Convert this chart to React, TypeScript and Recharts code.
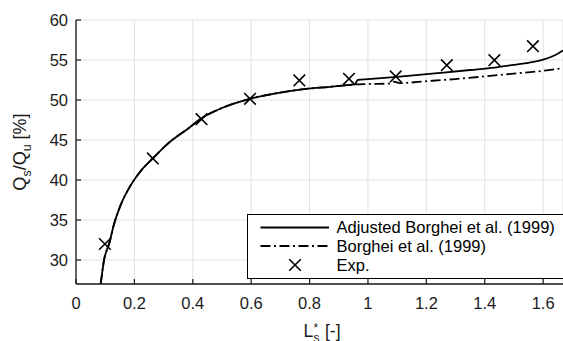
import React from 'react';
import { ComposedChart, Line, Scatter, XAxis, YAxis, CartesianGrid, Legend } from 'recharts';

// Exp. (measured points)
const expX = [0.099, 0.263, 0.43, 0.596, 0.765, 0.935, 1.095, 1.27, 1.433, 1.565];
const expY = [32.0, 42.7, 47.6, 50.15, 52.45, 52.65, 52.95, 54.35, 54.97, 56.72];

// Adjusted Borghei et al. (1999)
const adjX = [0.0845, 0.09, 0.096, 0.105, 0.114, 0.128, 0.151, 0.185, 0.219, 0.263, 0.31, 0.39, 0.425, 0.5, 0.596, 0.68, 0.767, 0.87, 0.927, 0.955, 0.965, 1.0, 1.1, 1.25, 1.35, 1.433, 1.5, 1.55, 1.6, 1.64, 1.668];
const adjY = [27.0, 28.5, 30.0, 31.2, 32.1, 34.2, 36.7, 39.2, 41.0, 42.7, 44.4, 46.6, 47.6, 49.0, 50.15, 50.8, 51.3, 51.65, 51.85, 51.95, 52.5, 52.6, 52.9, 53.4, 53.75, 54.05, 54.4, 54.65, 55.05, 55.6, 56.2];

// Borghei et al. (1999)
const borX = [0.0845, 0.09, 0.096, 0.105, 0.114, 0.128, 0.151, 0.185, 0.219, 0.263, 0.31, 0.39, 0.425, 0.5, 0.596, 0.68, 0.767, 0.87, 0.927, 0.955, 1.0, 1.076, 1.088, 1.11, 1.2, 1.3, 1.4, 1.5, 1.6, 1.668];
const borY = [27.0, 28.5, 30.0, 31.2, 32.1, 34.2, 36.7, 39.2, 41.0, 42.7, 44.4, 46.6, 47.6, 49.0, 50.15, 50.8, 51.3, 51.65, 51.85, 51.95, 52.0, 52.05, 52.3, 52.12, 52.35, 52.62, 52.95, 53.3, 53.65, 54.0];

const xTicks = [0, 0.2, 0.4, 0.6, 0.8, 1, 1.2, 1.4, 1.6];
const yTicks = [30, 35, 40, 45, 50, 55, 60];

const legendNames = ['Adjusted Borghei et al. (1999)', 'Borghei et al. (1999)', 'Exp.'];

const FONT = '"Liberation Sans", Arial, Helvetica, sans-serif';
const INK = '#1a1a1a';
const DASHDOT = '10 3.5 2 3.5';

const toPts = (xs: number[], ys: number[]) => xs.map((x, i) => ({ x, y: ys[i] }));

const BottomTick = (p: any) => (
  <g>
    <line x1={p.x} x2={p.x} y1={p.y} y2={p.y - 5} stroke={INK} strokeWidth={1.2} />
    <text x={p.x} y={p.y + 25} textAnchor="middle" fontSize={16.5} fontFamily={FONT} fill={INK}>
      {String(p.payload.value)}
    </text>
  </g>
);

const TopTick = (p: any) => (
  <line x1={p.x} x2={p.x} y1={p.y} y2={p.y + 5} stroke={INK} strokeWidth={1.2} />
);

const LeftTick = (p: any) => (
  <g>
    <line x1={p.x} x2={p.x + 5} y1={p.y} y2={p.y} stroke={INK} strokeWidth={1.2} />
    <text x={p.x - 8} y={p.y} dy="0.36em" textAnchor="end" fontSize={16.5} fontFamily={FONT} fill={INK}>
      {String(p.payload.value)}
    </text>
  </g>
);

const XMark = (p: any) => {
  const r = 5.8;
  const { cx, cy } = p;
  return (
    <path
      d={`M${cx - r},${cy - r}L${cx + r},${cy + r}M${cx - r},${cy + r}L${cx + r},${cy - r}`}
      stroke="#000"
      strokeWidth={1.6}
      fill="none"
    />
  );
};

const xLabel = () => (
  <g fontFamily={FONT} fill={INK}>
    <text x={303.5} y={336.5} fontSize={17.5}>L</text>
    <text x={313.5} y={331.5} fontSize={12}>*</text>
    <text x={313.5} y={341.5} fontSize={12}>s</text>
    <text x={325} y={336.5} fontSize={17.5}>[-]</text>
  </g>
);

const yLabel = () => (
  <text transform="rotate(-90)" x={-152} y={26} textAnchor="middle" fontSize={18} fontFamily={FONT} fill={INK}>
    Q<tspan fontSize={12.5} dy={5}>s</tspan>
    <tspan dy={-5}>/Q</tspan>
    <tspan fontSize={12.5} dy={5}>u</tspan>
    <tspan dy={-5}> [%]</tspan>
  </text>
);

const LegendBox = () => {
  const rows = [13.5, 32, 51];
  return (
    <svg width={320} height={65} style={{ display: 'block' }}>
      <rect x={0.5} y={0.5} width={330} height={64} fill="#fff" stroke="#000" strokeWidth={1} />
      <line x1={13.5} x2={82} y1={rows[0]} y2={rows[0]} stroke="#000" strokeWidth={1.8} />
      <line x1={13.5} x2={82} y1={rows[1]} y2={rows[1]} stroke="#000" strokeWidth={1.8} strokeDasharray={DASHDOT} />
      <XMark cx={48} cy={rows[2]} />
      {legendNames.map((name, i) => (
        <text key={name} x={89.5} y={rows[i]} dy="0.36em" fontSize={16.5} fontFamily={FONT} fill="#000">
          {name}
        </text>
      ))}
    </svg>
  );
};

export default function App() {
  const exp = toPts(expX, expY);
  const adj = toPts(adjX, adjY);
  const bor = toPts(borX, borY);

  return (
    <div style={{ position: 'absolute', left: 0, top: 0, width: 563, height: 341, overflow: 'hidden', background: '#fff' }}>
      <ComposedChart width={563} height={341} margin={{ top: 20, right: 0, bottom: 0, left: 0 }}>
        <CartesianGrid stroke="#e1e1e1" strokeWidth={1} />
        <XAxis
          type="number"
          dataKey="x"
          domain={[0, 1.668]}
          ticks={xTicks}
          interval={0}
          allowDataOverflow
          height={57}
          tickSize={0}
          tickMargin={0}
          tickLine={false}
          axisLine={{ stroke: INK, strokeWidth: 1.3 }}
          tick={(p: any) => <BottomTick {...p} />}
          label={xLabel}
        />
        <XAxis
          xAxisId="top"
          orientation="top"
          type="number"
          dataKey="x"
          domain={[0, 1.668]}
          ticks={xTicks}
          interval={0}
          allowDataOverflow
          height={0}
          tickSize={0}
          tickMargin={0}
          tickLine={false}
          axisLine={{ stroke: INK, strokeWidth: 1.3 }}
          tick={(p: any) => <TopTick {...p} />}
        />
        <YAxis
          type="number"
          domain={[27, 60]}
          ticks={yTicks}
          interval={0}
          allowDataOverflow
          width={76}
          tickSize={0}
          tickMargin={0}
          tickLine={false}
          axisLine={{ stroke: INK, strokeWidth: 1.3 }}
          tick={(p: any) => <LeftTick {...p} />}
          label={yLabel}
        />
        <Line
          data={bor}
          dataKey="y"
          name={legendNames[1]}
          type="monotone"
          stroke="#000"
          strokeWidth={1.8}
          strokeDasharray={DASHDOT}
          dot={false}
          activeDot={false}
          isAnimationActive={false}
        />
        <Line
          data={adj}
          dataKey="y"
          name={legendNames[0]}
          type="monotone"
          stroke="#000"
          strokeWidth={1.8}
          dot={false}
          activeDot={false}
          isAnimationActive={false}
        />
        <Scatter
          data={exp}
          dataKey="y"
          name={legendNames[2]}
          shape={(p: any) => <XMark {...p} />}
          isAnimationActive={false}
        />
        <Legend
          layout="horizontal"
          verticalAlign="middle"
          align="center"
          content={() => <LegendBox />}
          wrapperStyle={{ position: 'absolute', left: 247, top: 214, width: 320, height: 65, margin: 0, padding: 0 }}
        />
      </ComposedChart>
    </div>
  );
}
